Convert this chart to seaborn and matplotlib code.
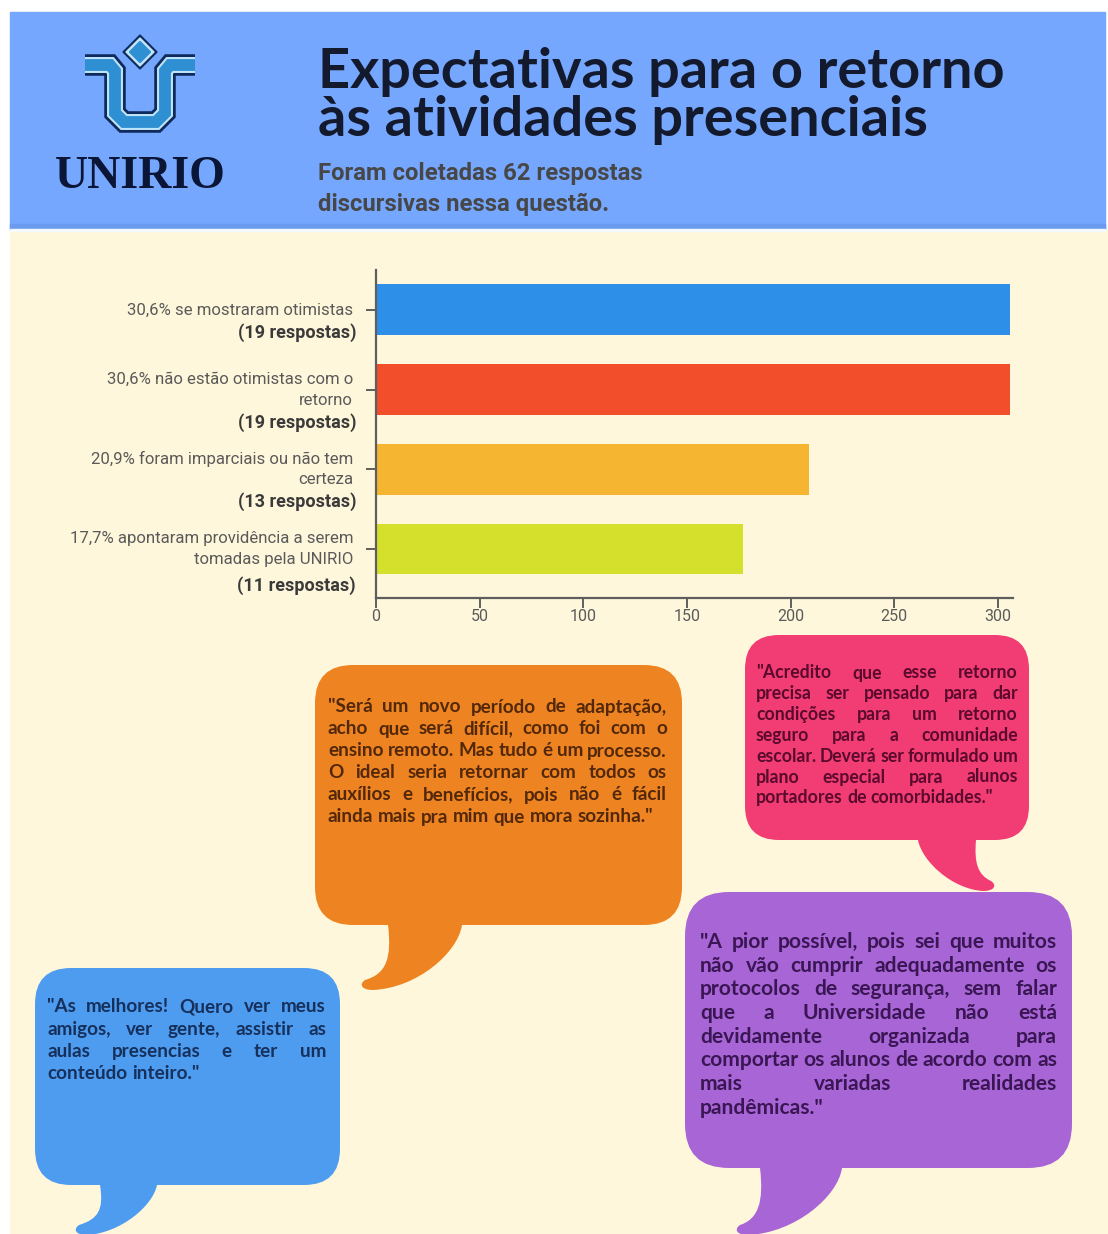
import matplotlib
matplotlib.use("Agg")
import matplotlib.pyplot as plt
import matplotlib.transforms as mtransforms
from matplotlib.patches import Rectangle, FancyBboxPatch, PathPatch, Polygon
from matplotlib.path import Path
import seaborn as sns
import pandas as pd

# ---------------- data ----------------
categories = [
    "30,6% se mostraram otimistas",
    "30,6% não estão otimistas com o\nretorno",
    "20,9% foram imparciais ou não tem\ncerteza",
    "17,7% apontaram providência a serem\ntomadas pela UNIRIO",
]
counts_labels = ["(19 respostas)", "(19 respostas)", "(13 respostas)", "(11 respostas)"]
values = [306, 306, 209, 177]
bar_colors = ["#2D8FE8", "#F34E2B", "#F5B531", "#D5E02C"]
x_ticks = [0, 50, 100, 150, 200, 250, 300]

title_lines = ["Expectativas para o retorno", "às atividades presenciais"]
subtitle_lines = ["Foram coletadas 62 respostas", "discursivas nessa questão."]

quote_orange = [
    "\"Será um novo período de adaptação,",
    "acho que será difícil, como foi com o",
    "ensino remoto. Mas tudo é um processo.",
    "O ideal seria retornar com todos os",
    "auxílios e benefícios, pois não é fácil",
    "ainda mais pra mim que mora sozinha.\"",
]
quote_pink = [
    "\"Acredito que esse retorno",
    "precisa ser pensado para dar",
    "condições para um retorno",
    "seguro para a comunidade",
    "escolar. Deverá ser formulado um",
    "plano especial para alunos",
    "portadores de comorbidades.\"",
]
quote_blue = [
    "\"As melhores! Quero ver meus",
    "amigos, ver gente, assistir as",
    "aulas presencias e ter um",
    "conteúdo inteiro.\"",
]
quote_purple = [
    "\"A pior possível, pois sei que muitos",
    "não vão cumprir adequadamente os",
    "protocolos de segurança, sem falar",
    "que a Universidade não está",
    "devidamente organizada para",
    "comportar os alunos de acordo com as",
    "mais variadas realidades",
    "pandêmicas.\"",
]

# ---------------- setup ----------------
sns.set_theme(style="white")
plt.rcParams["font.family"] = ["Roboto", "DejaVu Sans"]

W, H = 1108, 1234
fig = plt.figure(figsize=(W / 100, H / 100), dpi=100)
fig.patch.set_facecolor("white")

bg = fig.add_axes([0, 0, 1, 1], zorder=0)
bg.set_xlim(0, W)
bg.set_ylim(H, 0)
bg.axis("off")

renderer = fig.canvas.get_renderer()

CREAM = "#FFF7DB"
bg.add_patch(Rectangle((10, 230), W - 10, H - 230, color=CREAM, zorder=0))
bg.add_patch(Rectangle((10, 12), 1095, 218, color="#76A7FF", zorder=1))
bg.add_patch(Rectangle((10, 224), 1095, 5, color="#6B9BEF", zorder=1))
bg.add_patch(Rectangle((10, 229), 1095, 2, color="#F4FAFF", zorder=1))


def fit_width(t, target):
    w = t.get_window_extent(renderer).width
    t.set_fontsize(t.get_fontsize() * target / w)
    return t.get_fontsize()


# ---------------- logo ----------------
left_path = [(85, 65), (110, 65), (115, 71), (115, 113), (124, 122)]
logo_path = left_path + [(280 - x, y) for (x, y) in reversed(left_path)]
xs = [p[0] for p in logo_path]
ys = [p[1] for p in logo_path]
for lw, col in [(15.5, "#0E2B5C"), (11.5, "#BFE3F7"), (8.5, "#2E8FD3")]:
    bg.plot(xs, ys, color=col, lw=lw, solid_joinstyle="miter", solid_capstyle="butt", zorder=3)
for r, col in [(17, "#0E2B5C"), (14, "#BFE3F7"), (10.5, "#2E8FD3")]:
    bg.add_patch(Polygon([(140, 52 - r), (140 + r, 52), (140, 52 + r), (140 - r, 52)],
                         closed=True, color=col, zorder=4))
t = bg.text(55, 188, "UNIRIO", family=["Liberation Serif", "DejaVu Serif"], weight="bold",
            fontsize=30, color="#0B1535", ha="left", va="baseline", zorder=4)
fit_width(t, 171)

# ---------------- header text ----------------
t1 = bg.text(318, 88, title_lines[0], family=["Lato", "DejaVu Sans"], weight="bold",
             fontsize=36, color="#141a2e", ha="left", va="baseline", zorder=4)
fs_title = fit_width(t1, 685)
bg.text(318, 136, title_lines[1], family=["Lato", "DejaVu Sans"], weight="bold",
        fontsize=fs_title, color="#141a2e", ha="left", va="baseline", zorder=4)
s1 = bg.text(318, 180, subtitle_lines[0], family=["Roboto", "DejaVu Sans"], weight="bold",
             fontsize=16, color="#474747", ha="left", va="baseline", zorder=4)
fs_sub = fit_width(s1, 327)
bg.text(318, 211, subtitle_lines[1], family=["Roboto", "DejaVu Sans"], weight="bold",
        fontsize=fs_sub, color="#474747", ha="left", va="baseline", zorder=4)

# ---------------- bar chart ----------------
ax_left, ax_right, ax_top, ax_bottom = 376, 1013, 270, 598
ax = fig.add_axes([ax_left / W, 1 - ax_bottom / H, (ax_right - ax_left) / W,
                   (ax_bottom - ax_top) / H], zorder=2)
ax.set_facecolor("none")
df = pd.DataFrame({"cat": categories, "val": values})
sns.barplot(data=df, x="val", y="cat", hue="cat", palette=bar_colors, orient="h",
            width=0.64, saturation=1, legend=False, ax=ax, linewidth=0)
ax.set_xlim(0, 307.3)
ax.set_ylim(3.615, -0.502)
ax.set_xticks(x_ticks)
ax.set_xticklabels([str(v) for v in x_ticks])
ax.set_yticks(range(len(categories)))
ax.set_yticklabels([""] * len(categories))
ax.set_xlabel("")
ax.set_ylabel("")
for s in ["top", "right"]:
    ax.spines[s].set_visible(False)
for s in ["left", "bottom"]:
    ax.spines[s].set_color("#5E5E5E")
    ax.spines[s].set_linewidth(1.6)
ax.tick_params(axis="x", direction="out", length=7, width=1.4, color="#5E5E5E",
               labelsize=11.5, labelcolor="#5A5A5A", pad=1, bottom=True)
ax.tick_params(axis="y", direction="out", length=7, width=1.4, color="#5E5E5E", left=True)
for lab in ax.get_xticklabels():
    lab.set_family(["Roboto", "DejaVu Sans"])

blend = mtransforms.blended_transform_factory(ax.transAxes, ax.transData)
bold_offsets = [23, 33, 32, 37]
probe = bg.text(0, 0, categories[0], fontsize=12, family=["Roboto", "DejaVu Sans"])
fs_lab = fit_width(probe, 227)
probe.remove()
probe = bg.text(0, 0, counts_labels[0], fontsize=12, family=["Roboto", "DejaVu Sans"], weight="bold")
fs_bold = fit_width(probe, 118)
probe.remove()
for i, (cat, cnt) in enumerate(zip(categories, counts_labels)):
    lines = cat.split("\n")
    n = len(lines)
    for j, line in enumerate(lines):
        dy = (j - (n - 1) / 2) * 21
        tr = mtransforms.offset_copy(blend, fig=fig, x=-23, y=-dy, units="dots")
        ax.text(0, i, line, transform=tr, ha="right", va="center", fontsize=fs_lab,
                color="#5A5A5A", family=["Roboto", "DejaVu Sans"], clip_on=False)
    tr = mtransforms.offset_copy(blend, fig=fig, x=-20, y=-bold_offsets[i], units="dots")
    ax.text(0, i, cnt, transform=tr, ha="right", va="center", fontsize=fs_bold,
            color="#3A3A3A", weight="bold", family=["Roboto", "DejaVu Sans"], clip_on=False)


# ---------------- speech bubbles ----------------
def bubble(x0, y0, x1, y1, rad, tail, codes, color):
    bg.add_patch(FancyBboxPatch((x0 + rad, y0 + rad), (x1 - x0) - 2 * rad, (y1 - y0) - 2 * rad,
                                boxstyle=f"round,pad={rad},rounding_size={rad}",
                                fc=color, ec="none", zorder=5))
    verts = list(tail) + [tail[0]]
    pc = [Path.MOVETO] + [Path.LINETO if c == "L" else Path.CURVE4 for c in codes] + [Path.CLOSEPOLY]
    bg.add_patch(PathPatch(Path(verts, pc), fc=color, ec="none", zorder=5))


def make_tail(bottom, lx, rx, tipx, tipy, direction):
    if direction < 0:
        pts = [(lx, bottom - 12), (lx, bottom),
               (lx + 4, bottom + (tipy - bottom) * 0.55), (lx - 2, tipy - 12), (tipx + 2, tipy - 6),
               (tipx - 4, tipy - 2), (tipx - 2, tipy + 4), (tipx + 10, tipy + 4),
               (tipx + (rx - tipx) * 0.55, tipy + 2), (rx - 4, bottom + (tipy - bottom) * 0.45), (rx, bottom),
               (rx, bottom - 12)]
    else:
        pts = [(rx, bottom - 12), (rx, bottom),
               (rx - 2, bottom + (tipy - bottom) * 0.5), (rx + 2, tipy - 12), (tipx - 2, tipy - 6),
               (tipx + 4, tipy - 2), (tipx + 2, tipy + 4), (tipx - 10, tipy + 4),
               (tipx - (tipx - lx) * 0.55, tipy + 2), (lx + 4, bottom + (tipy - bottom) * 0.45), (lx, bottom),
               (lx, bottom - 12)]
    codes = ["L", "C", "C", "C", "C", "C", "C", "C", "C", "C", "L"]
    return pts, codes


def justified(lines, x0, x1, y0, dy, fs, color, fam=("Lato", "DejaVu Sans"), weight="bold"):
    a = bg.text(0, 0, "a a", fontsize=fs, family=list(fam), weight=weight)
    b = bg.text(0, 0, "aa", fontsize=fs, family=list(fam), weight=weight)
    space = a.get_window_extent(renderer).width - b.get_window_extent(renderer).width
    a.remove()
    b.remove()
    for i, line in enumerate(lines):
        words = line.split(" ")
        objs = [bg.text(0, y0 + i * dy, w, fontsize=fs, family=list(fam), weight=weight,
                        color=color, ha="left", va="center", zorder=6) for w in words]
        widths = [o.get_window_extent(renderer).width for o in objs]
        last = i == len(lines) - 1
        if last or len(words) == 1:
            gap = space
        else:
            gap = (x1 - x0 - sum(widths)) / (len(words) - 1)
        x = x0
        for o, w in zip(objs, widths):
            o.set_x(x)
            x += w + gap


def fit_fs(line, target, fam=("Lato", "DejaVu Sans"), weight="bold"):
    p = bg.text(0, 0, line, fontsize=12, family=list(fam), weight=weight)
    f = fit_width(p, target)
    p.remove()
    return f


# orange
pts, codes = make_tail(925, 388, 462, 363, 986, -1)
bubble(315, 665, 682, 925, 38, pts, codes, "#EE8421")
fs_o = fit_fs(quote_orange[2], 339)
justified(quote_orange, 328, 667, 707, 22, fs_o, "#53280A")

# pink
pts, codes = make_tail(840, 918, 976, 993, 887, +1)
bubble(745, 635, 1029, 840, 34, pts, codes, "#F23C74")
fs_p = fit_fs(quote_pink[4], 262)
justified(quote_pink, 756, 1018, 673, 20.8, fs_p, "#5A0A2C")

# blue
pts, codes = make_tail(1185, 100, 157, 77, 1231, -1)
bubble(35, 968, 340, 1185, 36, pts, codes, "#4E9CF0")
justified(quote_blue, 47, 326, 1007, 22.3, fs_o, "#16305C")

# purple
pts, codes = make_tail(1168, 760, 842, 738, 1231, -1)
bubble(685, 892, 1072, 1168, 44, pts, codes, "#A865D6")
fs_u = fit_fs(quote_purple[5], 357)
justified(quote_purple, 700, 1057, 942, 23.7, fs_u, "#3A1654")

fig.savefig("out.png", dpi=100, facecolor="white")
